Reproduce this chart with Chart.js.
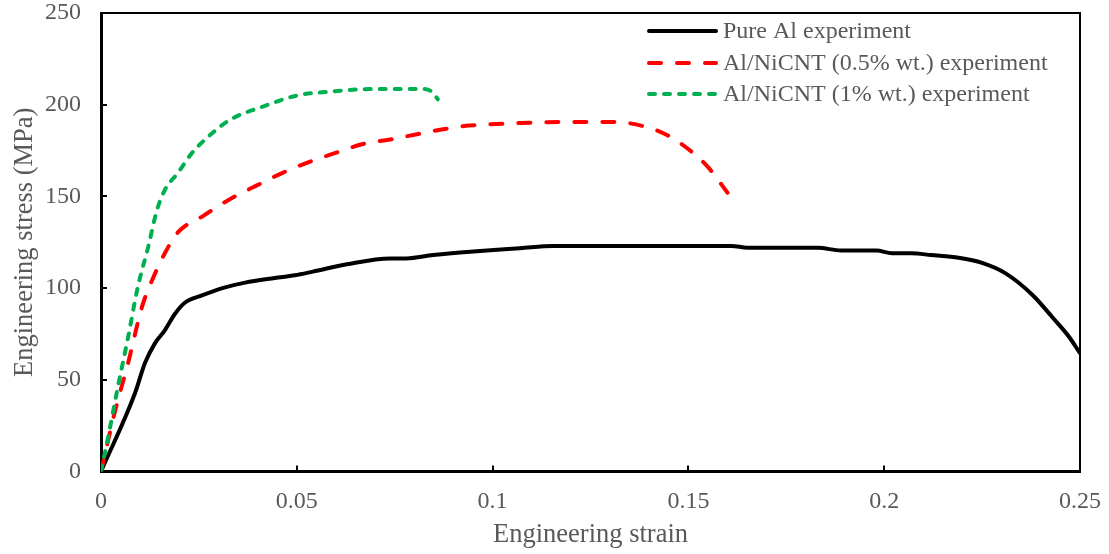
<!DOCTYPE html>
<html>
<head>
<meta charset="utf-8">
<script src="https://cdn.jsdelivr.net/npm/chart.js@4.4.1/dist/chart.umd.min.js"></script>
<style>
  html,body{margin:0;padding:0;background:#fff;}
  canvas{display:block;}
</style>
</head>
<body>
<canvas id="stressChart" width="1109" height="554"></canvas>
<script>
// tensile curves: strain (-) vs stress (MPa)
const strainAl=[0,0.0087,0.0112,0.0138,0.0163,0.0189,0.0214,0.0258,0.031,0.0368,0.0444,0.0495,0.0541,0.0628,0.0738,0.078,0.0848,0.0968,0.107,0.1154,0.127,0.161,0.165,0.183,0.189,0.198,0.202,0.207,0.212,0.219,0.225,0.231,0.238,0.243,0.247,0.25];
const stressAl=[0,42.8,59,70,77,86,92,96,100,103,105.5,107,109,113,116.2,116.2,118,120.2,121.7,123,123,123,122,122,120.5,120.5,119,119,118,116.5,113.7,108,96,84,74,64.5];

const strainNi05=[0,0.0036,0.0069,0.0105,0.013,0.0163,0.0197,0.0258,0.033,0.0398,0.0465,0.0534,0.0603,0.0669,0.0738,0.0807,0.0873,0.094,0.107,0.122,0.131,0.139,0.1445,0.1496,0.155,0.16];
const stressNi05=[0,33,59,90,104,119,130.5,139,148.6,156,163,169,174,178.6,181,183.9,186.6,188.6,190,190.6,190.6,188,183.5,176.4,166,152];

const strainNi1=[0,0.0018,0.0043,0.0069,0.0094,0.012,0.0143,0.0163,0.0197,0.0232,0.0273,0.0329,0.0414,0.05,0.0585,0.0669,0.0756,0.0815,0.0845,0.086];
const stressNi1=[0,18.5,46,73,100.6,122,142.6,153.5,163,173.6,182.4,191.7,199,205,207.1,208.4,208.6,208.6,207,203];

const seriesNames=["Pure Al experiment","Al/NiCNT (0.5% wt.) experiment","Al/NiCNT (1% wt.) experiment"];
const xTicks=[0,0.05,0.1,0.15,0.2,0.25];
const yTicks=[0,50,100,150,200,250];

const textColor="#595959";
const serif="'Liberation Serif','Times New Roman',serif";

function pts(xs,ys){ return xs.map((x,i)=>({x:x,y:ys[i]})); }

// box round the plot area + inward tick marks
const framePlugin={
  id:"frame",
  beforeDatasetsDraw(chart){
    const {ctx,chartArea:a,scales:{x,y}}=chart;
    ctx.save();
    ctx.strokeStyle="#000";
    ctx.lineWidth=2;
    ctx.beginPath();
    ctx.moveTo(a.left,a.top);ctx.lineTo(a.right,a.top);ctx.lineTo(a.right,a.bottom);
    ctx.stroke();
    xTicks.forEach(v=>{
      let px=Math.round(x.getPixelForValue(v));
      ctx.beginPath();ctx.moveTo(px,a.bottom);ctx.lineTo(px,a.bottom-6);ctx.stroke();
    });
    yTicks.forEach(v=>{
      let py=Math.round(y.getPixelForValue(v));
      ctx.beginPath();ctx.moveTo(a.left,py);ctx.lineTo(a.left+6,py);ctx.stroke();
    });
    ctx.restore();
  }
};

// legend drawn inside the plot, top right
const legendPlugin={
  id:"innerLegend",
  afterDraw(chart){
    const ctx=chart.ctx;
    const rows=[31,63,94];
    ctx.save();
    chart.data.datasets.forEach((ds,i)=>{
      let yy=rows[i];
      ctx.strokeStyle=ds.borderColor;
      ctx.lineWidth=ds.borderWidth;
      ctx.lineCap=ds.borderCapStyle||"butt";
      ctx.setLineDash(ds.borderDash||[]);
      ctx.beginPath();ctx.moveTo(649,yy);ctx.lineTo(716,yy);ctx.stroke();
      ctx.setLineDash([]);
      ctx.fillStyle=textColor;
      ctx.font="24px "+serif;
      ctx.textBaseline="middle";
      ctx.textAlign="left";
      ctx.fillText(ds.label,723,yy+1);
    });
    ctx.restore();
  }
};

new Chart(document.getElementById("stressChart"),{
  type:"line",
  data:{
    datasets:[
      {label:seriesNames[0],data:pts(strainAl,stressAl),borderColor:"#000000",borderWidth:4,
       borderCapStyle:"round",pointRadius:0,cubicInterpolationMode:"monotone",order:3},
      {label:seriesNames[1],data:pts(strainNi05,stressNi05),borderColor:"#ff0000",borderWidth:4,
       borderDash:[12,16],borderCapStyle:"round",pointRadius:0,cubicInterpolationMode:"monotone",order:2},
      {label:seriesNames[2],data:pts(strainNi1,stressNi1),borderColor:"#00b050",borderWidth:4,
       borderDash:[6,9],borderCapStyle:"round",pointRadius:0,cubicInterpolationMode:"monotone",order:1}
    ]
  },
  options:{
    responsive:false,
    animation:false,
    devicePixelRatio:1,
    layout:{padding:{left:0,right:29,top:13,bottom:0}},
    plugins:{legend:{display:false},tooltip:{enabled:false}},
    scales:{
      x:{
        type:"linear",min:0,max:0.25,
        afterFit(s){ s.height=82.5; s.paddingLeft=0; s.paddingRight=0; },
        afterBuildTicks(s){ s.ticks=xTicks.map(v=>({value:v})); },
        grid:{display:false,drawTicks:false},
        border:{display:true,color:"#000",width:3},
        ticks:{padding:16,color:textColor,font:{family:serif,size:24},
          callback:v=>String(+v.toFixed(2))},
        title:{display:true,text:"Engineering strain",color:textColor,
          font:{family:serif,size:26.5},padding:{top:0,bottom:3}}
      },
      y:{
        min:0,max:250,
        afterFit(s){ s.width=101; s.paddingTop=0; s.paddingBottom=0; },
        afterBuildTicks(s){ s.ticks=yTicks.map(v=>({value:v})); },
        grid:{display:false,drawTicks:false},
        border:{display:true,color:"#000",width:3},
        ticks:{padding:20,color:textColor,font:{family:serif,size:24}},
        title:{display:true,text:"Engineering stress (MPa)",color:textColor,
          font:{family:serif,size:26.5},padding:{top:9,bottom:0}}
      }
    }
  },
  plugins:[framePlugin,legendPlugin]
});
</script>
</body>
</html>
